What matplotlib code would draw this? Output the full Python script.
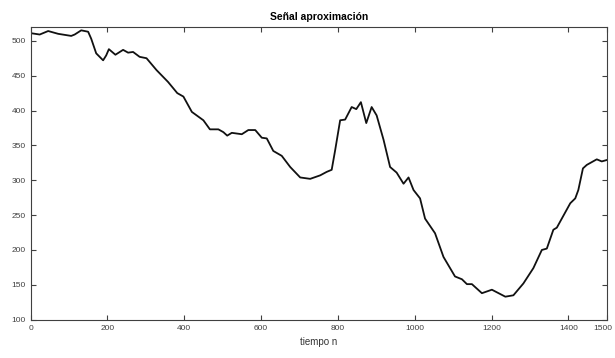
# Señal aproximación - recreated from the reference figure
import matplotlib
matplotlib.use('Agg')
import matplotlib.pyplot as plt
import matplotlib.transforms as mtransforms

plt.rcParams['font.family'] = ['Liberation Sans Narrow', 'Liberation Sans', 'DejaVu Sans']

# points
n = [0, 24, 46, 72, 106, 115, 132, 150, 158, 171, 189, 197, 204, 221, 241, 254, 267,
     284, 302, 328, 358, 382, 398, 420, 450, 467, 489, 502, 512, 524, 550, 567, 585,
     602, 615, 632, 654, 676, 702, 728, 754, 771, 784, 793, 806, 819, 836, 848, 860,
     874, 888, 901, 919, 936, 953, 971, 984, 997, 1014, 1027, 1053, 1075, 1105, 1123,
     1136, 1149, 1175, 1201, 1236, 1257, 1283, 1309, 1331, 1344, 1361, 1370, 1405,
     1418, 1426, 1438, 1448, 1461, 1474, 1487, 1500]
senal = [511, 509, 514, 510, 507, 509, 515, 513, 503, 482, 472, 479, 488, 480, 487, 483,
         484, 477, 475, 458, 441, 425, 420, 398, 386, 373, 373, 369, 364, 368, 366, 372,
         372, 361, 360, 342, 335, 319, 304, 302, 307, 312, 315, 343, 386, 387, 405, 402,
         412, 382, 405, 393, 358, 319, 311, 295, 304, 286, 274, 245, 224, 190, 162, 158,
         151, 151, 138, 143, 133, 135, 152, 174, 200, 202, 229, 232, 267, 274, 286, 317,
         322, 326, 330, 327, 329]

xticks = [0, 200, 400, 600, 800, 1000, 1200, 1400, 1500]
yticks = [100, 150, 200, 250, 300, 350, 400, 450, 500]

fig = plt.figure(figsize=(6.15, 3.58), dpi=100)
ax = fig.add_axes([0.0496, 0.107, 0.937, 0.818])
ax.plot(n, senal, color='#111111', linewidth=1.3)

ax.set_xlim(0, 1500)
ax.set_ylim(100, 520)
ax.set_xticks(xticks)
ax.set_yticks(yticks)
ax.tick_params(direction='in', top=True, right=True, length=3.5, width=0.8,
               labelsize=6, labelcolor='#404040', color='#404040')
for s in ax.spines.values():
    s.set_color('#404040')
    s.set_linewidth(0.8)

# last x label sits at the right edge, keep it inside the picture
last = ax.get_xticklabels()[-1]
last.set_horizontalalignment('right')
last.set_transform(last.get_transform() + mtransforms.ScaledTranslation(6 / 100, 0, fig.dpi_scale_trans))

ax.set_title('Señal aproximación', fontsize=7.5, fontweight='bold', pad=5)
ax.set_xlabel('tiempo n', fontsize=7, color='#333333', labelpad=4)

plt.savefig('out.png', dpi=100)
